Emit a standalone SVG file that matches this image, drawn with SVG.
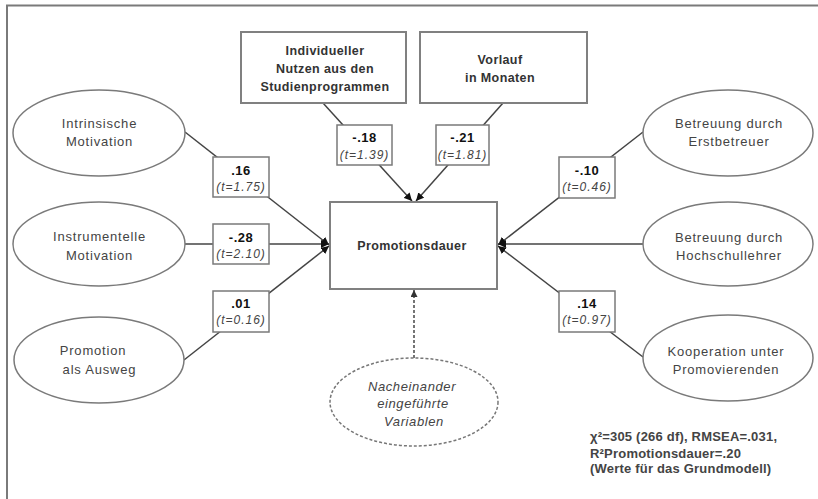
<svg xmlns="http://www.w3.org/2000/svg" width="818" height="499" viewBox="0 0 818 499">
<style>
.frame{stroke:#7a7a7a;stroke-width:2;fill:none}
.box{fill:#fff;stroke:#808080;stroke-width:2}
.lbox{fill:#fff;stroke:#7a7a7a;stroke-width:1.5}
.ell{fill:#fff;stroke:#7a7a7a;stroke-width:1.5}
.dell{fill:#fff;stroke:#777;stroke-width:1.5;stroke-dasharray:3 2}
.con{stroke:#444;stroke-width:1.5;fill:none}
.dcon{stroke:#666;stroke-width:1.8;fill:none;stroke-dasharray:3 2}
text{font-family:"Liberation Sans",Arial,sans-serif;text-anchor:middle}
.bt{font-size:12.5px;font-weight:bold;fill:#333;letter-spacing:0.4px}
.et{font-size:13px;fill:#444;letter-spacing:0.8px}
.num{font-size:13px;font-weight:bold;fill:#111;letter-spacing:0.5px}
.tv{font-size:12px;font-style:italic;fill:#444;letter-spacing:1px}
.it{font-size:13px;font-style:italic;fill:#444;letter-spacing:0.6px}
.st{font-size:13px;font-weight:bold;fill:#444;text-anchor:start;letter-spacing:0.2px}
</style>
<defs>
<marker id="arr" viewBox="0 0 10 10" refX="10" refY="5" markerWidth="8" markerHeight="8" markerUnits="userSpaceOnUse" orient="auto">
<path d="M0,0 L10,5 L0,10 z" fill="#111"/>
</marker>
<marker id="darr" viewBox="0 0 10 10" refX="10" refY="5" markerWidth="7" markerHeight="7" markerUnits="userSpaceOnUse" orient="auto">
<path d="M0,0 L10,5 L0,10 z" fill="#333"/>
</marker>
</defs>
<g id="frame">
<path class="frame" d="M7,499 L7,5.5 L818,5.5"/>
</g>
<g id="connectors">
<line class="con" x1="185" y1="132" x2="329" y2="245" marker-end="url(#arr)"/>
<line class="con" x1="185" y1="244" x2="329" y2="244" marker-end="url(#arr)"/>
<line class="con" x1="184" y1="360" x2="329" y2="246" marker-end="url(#arr)"/>
<line class="con" x1="643" y1="132" x2="498" y2="245" marker-end="url(#arr)"/>
<line class="con" x1="643" y1="244" x2="498" y2="244" marker-end="url(#arr)"/>
<line class="con" x1="643" y1="357" x2="498" y2="246" marker-end="url(#arr)"/>
<line class="con" x1="323" y1="103" x2="412" y2="201" marker-end="url(#arr)"/>
<line class="con" x1="503" y1="103" x2="416" y2="201" marker-end="url(#arr)"/>
<line class="dcon" x1="414" y1="358" x2="414" y2="290" marker-end="url(#darr)"/>
</g>
<g id="labels">
<g id="label-intrinsisch">
<rect class="lbox" x="213" y="157" width="56" height="40"/>
<text class="num" x="241" y="175">.16</text>
<text class="tv" x="241" y="191">(t=1.75)</text>
</g>
<g id="label-instrumentell">
<rect class="lbox" x="213" y="224" width="56" height="40"/>
<text class="num" x="241" y="242">-.28</text>
<text class="tv" x="241" y="258">(t=2.10)</text>
</g>
<g id="label-ausweg">
<rect class="lbox" x="213" y="291" width="56" height="41"/>
<text class="num" x="241" y="308">.01</text>
<text class="tv" x="241" y="324">(t=0.16)</text>
</g>
<g id="label-nutzen">
<rect class="lbox" x="337" y="125" width="55" height="40"/>
<text class="num" x="364.5" y="142">-.18</text>
<text class="tv" x="364.5" y="158.5">(t=1.39)</text>
</g>
<g id="label-vorlauf">
<rect class="lbox" x="436" y="125" width="53" height="40"/>
<text class="num" x="462.5" y="142">-.21</text>
<text class="tv" x="462.5" y="158.5">(t=1.81)</text>
</g>
<g id="label-erstbetreuer">
<rect class="lbox" x="559" y="157" width="56" height="41"/>
<text class="num" x="587" y="175">-.10</text>
<text class="tv" x="587" y="191">(t=0.46)</text>
</g>
<g id="label-kooperation">
<rect class="lbox" x="559" y="291" width="56" height="41"/>
<text class="num" x="587" y="308">.14</text>
<text class="tv" x="587" y="324">(t=0.97)</text>
</g>
</g>
<g id="node-nutzen">
<rect class="box" x="241" y="32" width="165" height="71"/>
<text class="bt" x="325" y="55">Individueller</text>
<text class="bt" x="325" y="73">Nutzen aus den</text>
<text class="bt" x="325" y="91">Studienprogrammen</text>
</g>
<g id="node-vorlauf">
<rect class="box" x="420" y="32" width="167" height="71"/>
<text class="bt" x="500" y="64">Vorlauf</text>
<text class="bt" x="500" y="82">in Monaten</text>
</g>
<g id="node-promotionsdauer">
<rect class="box" x="330" y="202" width="167" height="87"/>
<text class="bt" x="412" y="250">Promotionsdauer</text>
</g>
<g id="node-intrinsisch">
<ellipse class="ell" cx="99" cy="133" rx="86" ry="43"/>
<text class="et" x="99.5" y="127.5">Intrinsische</text>
<text class="et" x="99.5" y="146">Motivation</text>
</g>
<g id="node-instrumentell">
<ellipse class="ell" cx="99" cy="244" rx="86" ry="42"/>
<text class="et" x="99.5" y="241">Instrumentelle</text>
<text class="et" x="99.5" y="259.5">Motivation</text>
</g>
<g id="node-ausweg">
<ellipse class="ell" cx="99" cy="360" rx="85" ry="43"/>
<text class="et" x="93" y="354.5">Promotion</text>
<text class="et" x="99.5" y="373.5">als Ausweg</text>
</g>
<g id="node-erstbetreuer">
<ellipse class="ell" cx="728" cy="133" rx="85" ry="43"/>
<text class="et" x="729" y="127.5">Betreuung durch</text>
<text class="et" x="729" y="146">Erstbetreuer</text>
</g>
<g id="node-hochschullehrer">
<ellipse class="ell" cx="728" cy="244" rx="85" ry="42"/>
<text class="et" x="729" y="241.5">Betreuung durch</text>
<text class="et" x="729" y="259.5">Hochschullehrer</text>
</g>
<g id="node-kooperation">
<ellipse class="ell" cx="728" cy="358" rx="85" ry="43"/>
<text class="et" x="726" y="355.5">Kooperation unter</text>
<text class="et" x="726" y="373.5">Promovierenden</text>
</g>
<g id="node-nacheinander">
<ellipse class="dell" cx="414" cy="402" rx="84" ry="44"/>
<text class="it" x="412" y="390.5">Nacheinander</text>
<text class="it" x="413" y="408">eingeführte</text>
<text class="it" x="414" y="425.5">Variablen</text>
</g>
<g id="stats">
<text class="st" x="590" y="441">χ²=305 (266 df), RMSEA=.031,</text>
<text class="st" x="590" y="457.5">R²Promotionsdauer=.20</text>
<text class="st" x="590" y="473">(Werte für das Grundmodell)</text>
</g>
</svg>
